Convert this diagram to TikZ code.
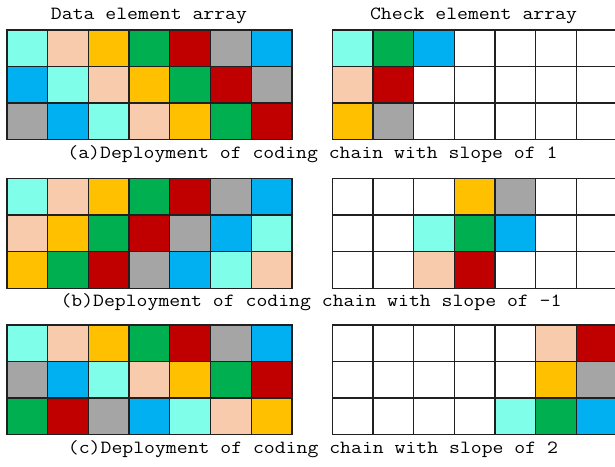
\documentclass[tikz,border=0pt]{standalone}

% cell colours
\definecolor{cy}{HTML}{7FFFEA}
\definecolor{pe}{HTML}{F8CBAD}
\definecolor{go}{HTML}{FFC000}
\definecolor{gr}{HTML}{00B050}
\definecolor{rd}{HTML}{C00000}
\definecolor{gy}{HTML}{A5A5A5}
\definecolor{bl}{HTML}{00B0F0}
\definecolor{wh}{HTML}{FFFFFF}
\definecolor{linecol}{HTML}{202020}

\tikzset{
  cellbox/.style={draw=linecol, line width=1.3pt},
  lab/.style={font=\ttfamily\fontsize{18.6}{20}\selectfont, text=black,
              xscale=1.137, inner sep=0pt, anchor=base},
}

% \cellgrid{x0}{y0}{row height}{rows}: 7 columns of width 40.7
\newcommand\cellgrid[4]{%
  \foreach \rowlist [count=\j from 0] in {#4} {%
    \foreach \c [count=\i from 0] in \rowlist {%
      \filldraw[cellbox, fill=\c]
        ({#1+40.7*\i},{#2+#3*\j}) rectangle ++(40.7,#3);
    }%
  }%
}

\begin{document}
\begin{tikzpicture}[x=1pt, y=-1pt]
  \fill[white] (0,0) rectangle (615,466);
  \useasboundingbox (0,0) rectangle (615,466);
  \clip (0,0) rectangle (615,466);

  % headings
  \node[lab] (hdata)  at (149,19.5)  {Data element array};
  \node[lab] (hcheck) at (473.5,19.5) {Check element array};

  % (a) slope 1
  \cellgrid{7}{30}{36.45}{{cy,pe,go,gr,rd,gy,bl},{bl,cy,pe,go,gr,rd,gy},{gy,bl,cy,pe,go,gr,rd}}
  \cellgrid{332.3}{30}{36.45}{{cy,gr,bl,wh,wh,wh,wh},{pe,rd,wh,wh,wh,wh,wh},{go,gy,wh,wh,wh,wh,wh}}
  \node[lab] (capa) at (312.5,158.5) {(a)Deployment of coding chain with slope of 1};

  % (b) slope -1
  \cellgrid{7}{178.5}{36.6}{{cy,pe,go,gr,rd,gy,bl},{pe,go,gr,rd,gy,bl,cy},{go,gr,rd,gy,bl,cy,pe}}
  \cellgrid{332.3}{178.5}{36.6}{{wh,wh,wh,go,gy,wh,wh},{wh,wh,cy,gr,bl,wh,wh},{wh,wh,pe,rd,wh,wh,wh}}
  \node[lab] (capb) at (311,306.5) {(b)Deployment of coding chain with slope of -1};

  % (c) slope 2
  \cellgrid{7}{325}{36.45}{{cy,pe,go,gr,rd,gy,bl},{gy,bl,cy,pe,go,gr,rd},{gr,rd,gy,bl,cy,pe,go}}
  \cellgrid{332.3}{325}{36.45}{{wh,wh,wh,wh,wh,pe,rd},{wh,wh,wh,wh,wh,go,gy},{wh,wh,wh,wh,cy,gr,bl}}
  \node[lab] (capc) at (313,453.5) {(c)Deployment of coding chain with slope of 2};
\end{tikzpicture}
\end{document}
